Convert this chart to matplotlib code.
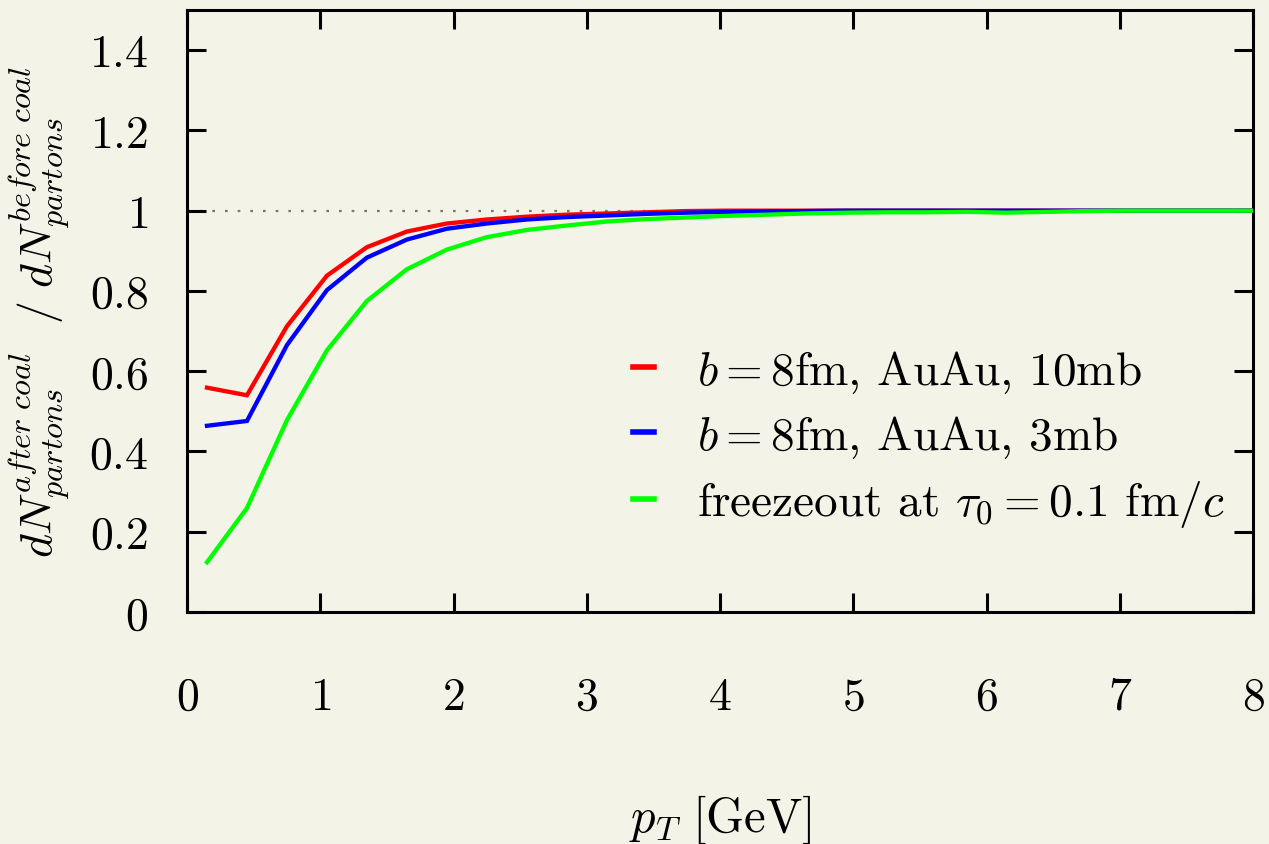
import numpy as np
import matplotlib
matplotlib.use("Agg")
import matplotlib.pyplot as plt

plt.rcParams['mathtext.fontset'] = 'cm'
plt.rcParams['font.family'] = ['cmr10', 'DejaVu Serif']
plt.rcParams['axes.unicode_minus'] = False

# ---- data ----
pt = [0.15, 0.45, 0.75, 1.05, 1.35, 1.65, 1.95, 2.25, 2.55, 2.85, 3.15, 3.45,
      3.75, 4.05, 4.35, 4.65, 4.95, 5.25, 5.55, 5.85, 6.15, 6.45, 6.75, 7.05,
      7.35, 7.65, 7.95, 8.25]
ratio_10mb = [0.559, 0.540, 0.712, 0.838, 0.909, 0.948, 0.968, 0.978, 0.985,
              0.990, 0.993, 0.996, 0.999, 1.000, 1.000, 1.000, 1.000, 1.000,
              1.000, 1.000, 1.000, 1.000, 1.000, 1.000, 1.000, 1.000, 1.000, 1.000]
ratio_3mb = [0.464, 0.476, 0.665, 0.802, 0.883, 0.928, 0.955, 0.968, 0.978,
             0.984, 0.988, 0.992, 0.995, 0.997, 0.998, 0.999, 1.000, 1.000,
             1.000, 1.000, 1.000, 1.000, 1.000, 1.000, 1.000, 1.000, 1.000, 1.000]
ratio_freeze = [0.124, 0.259, 0.478, 0.652, 0.775, 0.854, 0.903, 0.934, 0.952,
                0.963, 0.973, 0.979, 0.983, 0.987, 0.990, 0.993, 0.995, 0.996,
                0.996, 0.997, 0.995, 0.997, 0.999, 1.000, 1.000, 1.000, 1.000, 1.000]

series_labels = [r'$b=8$fm, AuAu, 10mb',
                 r'$b=8$fm, AuAu, 3mb',
                 r'freezeout at $\tau_0=0.1$ fm/$c$']
colors = ['#ff0000', '#0000ff', '#00ff00']

xticks = [0, 1, 2, 3, 4, 5, 6, 7, 8]
yticks = [0, 0.2, 0.4, 0.6, 0.8, 1.0, 1.2, 1.4]
ytick_labels = ['0', '0.2', '0.4', '0.6', '0.8', '1', '1.2', '1.4']

bg = '#f3f3e7'
fig = plt.figure(figsize=(12.69, 8.45), dpi=100, facecolor=bg)
ax = fig.add_axes([187/1269, 1-613/845, (1253-187)/1269, (613-11)/845])
ax.set_facecolor(bg)

ax.axhline(1.0, color='#777777', lw=1.6, ls=(0, (1.2, 4.5)), zorder=1)

for y, lab, c in zip([ratio_10mb, ratio_3mb, ratio_freeze], series_labels, colors):
    ax.plot(pt, y, color=c, lw=3.1, label=lab, zorder=3, solid_joinstyle='miter')

ax.set_xlim(0, 8)
ax.set_ylim(0, 1.5)
ax.set_xticks(xticks)
ax.set_xticklabels(['$%d$' % t for t in xticks])
ax.set_yticks(yticks)
ax.set_yticklabels(['$%s$' % t for t in ytick_labels])

for s in ax.spines.values():
    s.set_linewidth(2.2)
ax.tick_params(axis='both', direction='in', length=14, width=2.2,
               top=True, right=True, labelsize=33)
ax.tick_params(axis='x', pad=46)
ax.tick_params(axis='y', pad=28)

ax.set_xlabel(r'$p_T\ [\mathrm{GeV}]$', fontsize=35)
ax.xaxis.set_label_coords(0.5, -0.300)
ax.set_ylabel(r'$dN^{after\ coal}_{partons}\ \ /\ dN^{before\ coal}_{partons}$', fontsize=33)
ax.yaxis.set_label_coords(-0.108, 0.5)

leg = ax.legend(loc='upper left', bbox_to_anchor=(0.4184, 0.438), frameon=False,
                fontsize=34, handlelength=0.445, handletextpad=0.91,
                labelspacing=0.40, borderpad=0, borderaxespad=0)
for h in leg.get_lines():
    h.set_linewidth(4.0)

fig.savefig('out.png', dpi=100, facecolor=bg)
